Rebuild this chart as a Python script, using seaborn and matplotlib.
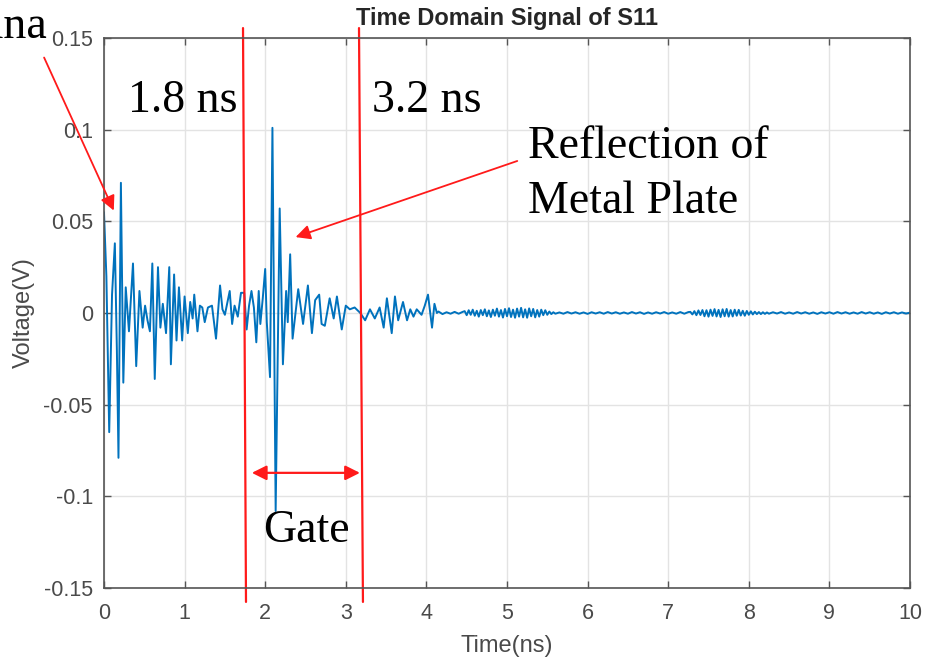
import numpy as np
import pandas as pd
import matplotlib
matplotlib.use('Agg')
import matplotlib.pyplot as plt
import seaborn as sns

# --- signal (time in ns, voltage in V) ---
# antenna reflection region
t_antenna = [0.00, 0.03, 0.065, 0.10, 0.135, 0.16, 0.18, 0.21, 0.24, 0.27,
             0.31, 0.36, 0.40, 0.44, 0.48, 0.51, 0.54, 0.57, 0.60, 0.63,
             0.67, 0.70, 0.73, 0.77, 0.81, 0.83, 0.87, 0.90, 0.93, 0.97,
             1.00, 1.04, 1.07, 1.10, 1.12, 1.16, 1.19, 1.22, 1.25, 1.29,
             1.34, 1.39, 1.44, 1.47, 1.50, 1.56, 1.59, 1.62, 1.66, 1.70,
             1.74, 1.77]
v_antenna = [0.055, 0.020, -0.065, 0.010, 0.038, -0.020, -0.079, 0.071, -0.038, 0.014,
             -0.010, 0.027, -0.029, 0.012, -0.008, 0.004, -0.004, -0.010, 0.027, -0.036,
             0.025, -0.008, 0.005, -0.011, 0.025, -0.028, 0.021, -0.015, 0.014, -0.015,
             0.009, -0.011, 0.006, -0.003, 0.010, -0.010, 0.004, 0.003, -0.005, 0.003,
             0.004, -0.014, 0.015, 0.002, -0.001, 0.012, -0.006, 0.004, -0.002, 0.011,
             0.011, -0.009]

# metal plate reflection (inside the gate)
t_plate = [1.80, 1.83, 1.86, 1.89, 1.92, 1.94, 1.97, 2.00, 2.02, 2.06,
           2.09, 2.13, 2.18, 2.22, 2.26, 2.28, 2.31, 2.34, 2.41, 2.47,
           2.53, 2.58, 2.62, 2.67, 2.70, 2.74, 2.80, 2.85, 2.89, 2.95,
           3.00, 3.05, 3.11, 3.18]
v_plate = [0.004, 0.012, 0.003, -0.016, 0.012, -0.006, 0.008, 0.024, -0.005, -0.035,
           0.101, -0.108, 0.057, -0.028, 0.012, -0.005, 0.032, -0.014, 0.013, -0.006,
           0.015, -0.011, 0.007, 0.010, -0.006, -0.007, 0.008, -0.003, 0.009, -0.009,
           0.004, 0.002, 0.003, 0.000]

# after the gate
t_late = [3.24, 3.30, 3.36, 3.42, 3.47, 3.51, 3.57, 3.61, 3.65, 3.71,
          3.76, 3.80, 3.84, 3.88, 3.94, 3.98, 4.02, 4.07, 4.10, 4.13]
v_late = [-0.004, 0.002, -0.003, 0.003, -0.008, 0.008, -0.011, 0.009, -0.004, 0.006,
          -0.004, 0.002, -0.002, 0.002, -0.001, 0.004, 0.010, -0.008, 0.005, 0.000]

# tail: quiet stretches every 0.05 ns, small bursts every 0.025 ns
t_quiet1 = np.round(np.arange(4.15, 4.451, 0.05), 3)
v_quiet1 = [0.0008, -0.0006, 0.0004, -0.0004, 0.0006, -0.0004, 0.0006]

t_burst1 = np.round(np.arange(4.475, 5.576, 0.025), 3)
v_burst1 = [0.0010, -0.0012, 0.0015, -0.0010, 0.0018, -0.0015, 0.0012, -0.0020, 0.0016, -0.0012,
            0.0020, -0.0018, 0.0014, -0.0022, 0.0018, -0.0015, 0.0024, -0.0020, 0.0016, -0.0025,
            0.0022, -0.0018, 0.0026, -0.0022, 0.0018, -0.0026, 0.0024, -0.0020, 0.0028, -0.0024,
            0.0020, -0.0026, 0.0025, -0.0018, 0.0022, -0.0024, 0.0016, -0.0020, 0.0018, -0.0012,
            0.0015, -0.0010, 0.0008, -0.0006, 0.0004]

t_quiet2 = np.round(np.arange(5.60, 7.251, 0.05), 3)
v_quiet2 = [-0.0004, 0.0003, -0.0004, 0.0005, -0.0003, 0.0004, -0.0004, 0.0003, -0.0005, 0.0004,
            -0.0003, 0.0004, -0.0004, 0.0005, -0.0003, 0.0004, -0.0004, 0.0003, -0.0004, 0.0005,
            -0.0003, 0.0004, -0.0005, 0.0003, -0.0004, 0.0004, -0.0003, 0.0005, -0.0004, 0.0003,
            -0.0004, 0.0005, -0.0004, 0.0005]

t_burst2 = np.round(np.arange(7.275, 8.226, 0.025), 3)
v_burst2 = [0.0006, -0.0008, 0.0010, -0.0012, 0.0014, -0.0011, 0.0016, -0.0018, 0.0015, -0.0020,
            0.0018, -0.0016, 0.0021, -0.0019, 0.0017, -0.0022, 0.0020, -0.0018, 0.0022, -0.0020,
            0.0016, -0.0019, 0.0018, -0.0015, 0.0017, -0.0014, 0.0012, -0.0015, 0.0011, -0.0010,
            0.0009, -0.0008, 0.0007, -0.0006, 0.0005, -0.0006, 0.0004, -0.0005, 0.0003]

t_quiet3 = np.round(np.arange(8.25, 10.001, 0.05), 3)
v_quiet3 = [-0.0004, 0.0004, -0.0003, 0.0005, -0.0004, 0.0003, -0.0004, 0.0005, -0.0003, 0.0004,
            -0.0004, 0.0003, -0.0005, 0.0004, -0.0003, 0.0004, -0.0004, 0.0005, -0.0003, 0.0004,
            -0.0004, 0.0003, -0.0004, 0.0005, -0.0003, 0.0004, -0.0004, 0.0003, -0.0005, 0.0004,
            -0.0003, 0.0004, -0.0004, 0.0003, -0.0003, 0.0002]

x_ticks = [0, 1, 2, 3, 4, 5, 6, 7, 8, 9, 10]
y_ticks = [-0.15, -0.1, -0.05, 0, 0.05, 0.1, 0.15]
y_tick_labels = ['-0.15', '-0.1', '-0.05', '0', '0.05', '0.1', '0.15']

t_all = [t_antenna, t_plate, t_late, t_quiet1, t_burst1, t_quiet2, t_burst2, t_quiet3]
v_all = [v_antenna, v_plate, v_late, v_quiet1, v_burst1, v_quiet2, v_burst2, v_quiet3]
df = pd.DataFrame({
    'Time': np.concatenate([np.asarray(t, dtype=float) for t in t_all]),
    'Voltage': np.concatenate([np.asarray(v, dtype=float) for v in v_all]),
})

sns.set_style('white')
plt.rcParams['font.family'] = ['Liberation Sans', 'DejaVu Sans']

fig = plt.figure(figsize=(9.25, 6.58), dpi=100)
ax = fig.add_axes([0.1124, 0.1064, 0.8714, 0.8359])

sns.lineplot(data=df, x='Time', y='Voltage', ax=ax, color='#0072BD',
             linewidth=1.4, estimator=None, sort=False)

ax.set_xlim(0, 10)
ax.set_ylim(-0.15, 0.15)
ax.set_xticks(x_ticks)
ax.set_xticklabels([str(v) for v in x_ticks])
ax.set_yticks(y_ticks)
ax.set_yticklabels(y_tick_labels)
ax.grid(True, color='#e3e3e3', linewidth=1.0)
ax.set_axisbelow(True)
for s in ax.spines.values():
    s.set_visible(True)
    s.set_color('#555555')
    s.set_linewidth(1.2)
ax.tick_params(direction='in', length=5, width=1, colors='#555555',
               labelcolor='#4a4a4a', labelsize=15.5, top=True, right=True,
               bottom=True, left=True)
ax.tick_params(axis='x', pad=11)
ax.tick_params(axis='y', pad=8)

ax.set_title('Time Domain Signal of S11', fontsize=17, fontweight='bold',
             color='#262626', pad=9)
ax.set_xlabel('Time(ns)', fontsize=17, color='#4a4a4a')
ax.set_ylabel('Voltage(V)', fontsize=17, color='#4a4a4a')
ax.xaxis.set_label_coords(0.5, -0.085)
ax.yaxis.set_label_coords(-0.086, 0.5)

# gate markers
red = '#ff1a1a'
ax.plot([1.725, 1.762], [0.1554, -0.1576], color=red, lw=1.6, clip_on=False)
ax.plot([3.164, 3.213], [0.1554, -0.1576], color=red, lw=1.6, clip_on=False)
ax.annotate('', xy=(1.80, -0.0872), xytext=(3.21, -0.0872),
            arrowprops=dict(arrowstyle='<|-|>', color=red, lw=1.6, mutation_scale=22))
ax.annotate('', xy=(0.136, 0.0545), xytext=(-0.757, 0.1407),
            arrowprops=dict(arrowstyle='-|>', color=red, lw=1.3, mutation_scale=22),
            annotation_clip=False)
ax.annotate('', xy=(2.345, 0.0409), xytext=(5.16, 0.0834),
            arrowprops=dict(arrowstyle='-|>', color=red, lw=1.3, mutation_scale=22))

serif = ['Liberation Serif', 'DejaVu Serif']
big = 33
ax.text(0.30, 0.1096, '1.8 ns', family=serif, fontsize=big, va='baseline', color='black')
ax.text(3.33, 0.1096, '3.2 ns', family=serif, fontsize=big, va='baseline', color='black')
ax.text(5.26, 0.0845, 'Reflection of', family=serif, fontsize=big, va='baseline', color='black')
ax.text(5.26, 0.0545, 'Metal Plate', family=serif, fontsize=big, va='baseline', color='black')
ax.text(1.97, -0.1249, 'Gate', family=serif, fontsize=big, va='baseline', color='black')
ax.text(-0.707, 0.150, 'Antenna', family=serif, fontsize=big, va='baseline',
        ha='right', color='black', clip_on=False)

plt.savefig('out.png', dpi=100)
